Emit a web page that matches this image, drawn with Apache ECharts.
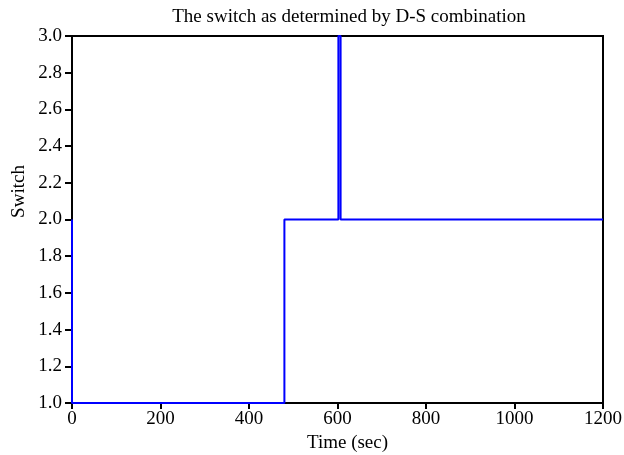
<!DOCTYPE html>
<html>
<head>
<meta charset="utf-8">
<script src="https://cdn.jsdelivr.net/npm/echarts@6/dist/echarts.min.js"></script>
<style>
html,body{margin:0;padding:0;background:#fff;}
#main{width:624px;height:455px;}
</style>
</head>
<body>
<div id="main"></div>
<script>
// step points of the switch signal
var timeVals = [0, 0, 480, 480, 602, 602, 607, 607, 1200];
var switchVals = [2, 1, 1, 2, 2, 3, 3, 2, 2];
var xTicks = [0, 200, 400, 600, 800, 1000, 1200];
var yTicks = [1.0, 1.2, 1.4, 1.6, 1.8, 2.0, 2.2, 2.4, 2.6, 2.8, 3.0];

var pts = [];
for (var i = 0; i < timeVals.length; i++) {
	pts.push([timeVals[i], switchVals[i]]);
}
var fnt = 'Liberation Serif';

var chart = echarts.init(document.getElementById('main'), null, {renderer: 'canvas'});
chart.setOption({
	animation: false,
	title: {
		text: 'The switch as determined by D-S combination',
		left: 344, top: 3, textAlign: 'center',
		textStyle: {fontFamily: fnt, fontSize: 19, fontWeight: 'normal', color: '#000'}
	},
	grid: {
		left: 72, right: 21, top: 36, bottom: 52,
		outerBoundsMode: 'none', containLabel: false,
		show: true, borderColor: '#000', borderWidth: 2
	},
	xAxis: {
		type: 'value', min: xTicks[0], max: xTicks[xTicks.length - 1], interval: 200,
		name: 'Time (sec)', nameLocation: 'middle', nameGap: 26,
		nameTextStyle: {fontFamily: fnt, fontSize: 19, color: '#000', padding: [0, 0, 0, 20]},
		axisLine: {lineStyle: {color: '#000', width: 2}},
		axisTick: {show: true, length: 6, lineStyle: {color: '#000', width: 2}},
		axisLabel: {fontFamily: fnt, fontSize: 19, color: '#000', margin: 7,
			formatter: function (v) { return String(v); }},
		splitLine: {show: false}
	},
	yAxis: {
		type: 'value', min: yTicks[0], max: yTicks[yTicks.length - 1], interval: 0.2,
		name: 'Switch', nameLocation: 'middle', nameGap: 43, nameMoveOverlap: false,
		nameTextStyle: {fontFamily: fnt, fontSize: 19, color: '#000', padding: [0, 0, 0, 56]},
		axisLine: {lineStyle: {color: '#000', width: 2}},
		axisTick: {show: true, length: 7, lineStyle: {color: '#000', width: 2}},
		axisLabel: {fontFamily: fnt, fontSize: 19, color: '#000', margin: 10,
			formatter: function (v) { return v.toFixed(1); }},
		splitLine: {show: false}
	},
	series: [{
		type: 'line',
		data: pts,
		showSymbol: false,
		lineStyle: {color: '#0000ff', width: 2},
		clip: false
	}]
});
</script>
</body>
</html>
